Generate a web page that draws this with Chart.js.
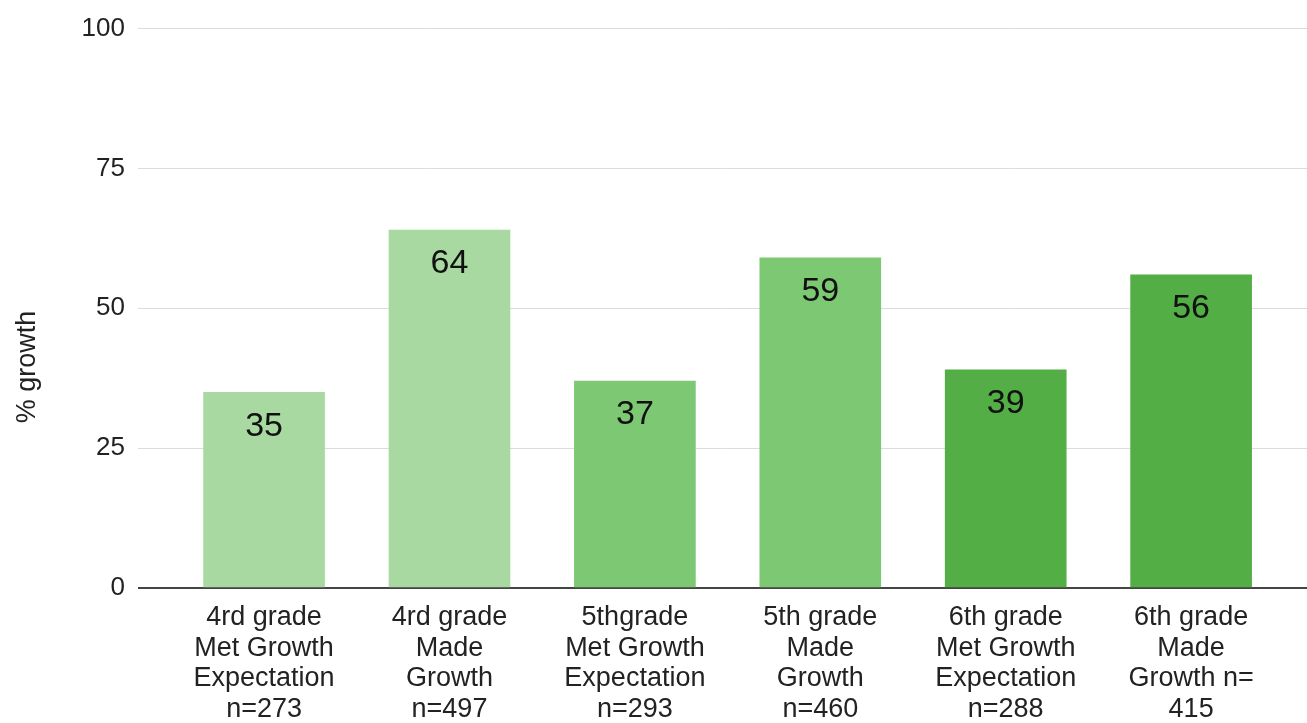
<!DOCTYPE html>
<html>
<head>
<meta charset="utf-8">
<script src="https://cdn.jsdelivr.net/npm/chart.js@4/dist/chart.umd.min.js"></script>
<style>
  html, body { margin: 0; padding: 0; background: #fff; }
  #wrap { width: 1307px; height: 723px; }
</style>
</head>
<body>
<div id="wrap"><canvas id="myChart"></canvas></div>
<script>
var categories = [
    ['4rd grade', 'Met Growth', 'Expectation', 'n=273'],
    ['4rd grade', 'Made', 'Growth', 'n=497'],
    ['5thgrade', 'Met Growth', 'Expectation', 'n=293'],
    ['5th grade', 'Made', 'Growth', 'n=460'],
    ['6th grade', 'Met Growth', 'Expectation', 'n=288'],
    ['6th grade', 'Made', 'Growth n=', '415']
];
var growth = [35, 64, 37, 59, 39, 56];
var barColors = ['#a8d9a0', '#a8d9a0', '#7dc873', '#7dc873', '#53ae45', '#53ae45'];
var yTicks = [0, 25, 50, 75, 100];

var FONT = '"Liberation Sans", Arial, sans-serif';

// value labels drawn inside the top of each bar
var barLabels = {
    id: 'barLabels',
    afterDatasetsDraw: function(chart) {
        var ctx = chart.ctx;
        var meta = chart.getDatasetMeta(0);
        ctx.save();
        ctx.font = '34px ' + FONT;
        ctx.fillStyle = '#111';
        ctx.textAlign = 'center';
        ctx.textBaseline = 'middle';
        meta.data.forEach(function(bar, i) {
            ctx.fillText(String(growth[i]), bar.x, bar.y + 34);
        });
        ctx.restore();
    }
};

// y axis title, centred on the canvas height like the original
var yTitle = {
    id: 'yTitle',
    afterDraw: function(chart) {
        var ctx = chart.ctx;
        ctx.save();
        ctx.translate(28, 367);
        ctx.rotate(-Math.PI / 2);
        ctx.font = '27px ' + FONT;
        ctx.fillStyle = '#222';
        ctx.textAlign = 'center';
        ctx.textBaseline = 'middle';
        ctx.fillText('% growth', 0, 0);
        ctx.restore();
    }
};

var ctx = document.getElementById('myChart').getContext('2d');
var myChart = new Chart(ctx, {
    type: 'bar',
    data: {
        datasets: [{
            label: '% growth',
            data: growth.map(function(v, i) { return {x: i, y: v}; }),
            backgroundColor: barColors,
            barThickness: 121,
            borderWidth: 0
        }]
    },
    options: {
        responsive: true,
        maintainAspectRatio: false,
        animation: false,
        layout: { padding: { top: 25, right: 0, left: 0, bottom: 0 } },
        plugins: {
            legend: { display: false },
            tooltip: { enabled: false }
        },
        scales: {
            x: {
                type: 'linear',
                offset: false,
                min: -0.68,
                max: 5.625,
                grid: { display: false, offset: false, drawTicks: false },
                border: { display: false },
                afterBuildTicks: function(scale) {
                    scale.ticks = categories.map(function(_, i) { return {value: i}; });
                },
                afterFit: function(scale) { scale.height = 135; },
                ticks: {
                    autoSkip: false,
                    maxRotation: 0,
                    minRotation: 0,
                    padding: 14,
                    color: '#222',
                    font: { family: FONT, size: 27, lineHeight: 1.14 },
                    callback: function(v) { return categories[v]; }
                }
            },
            y: {
                min: 0,
                max: 100,
                afterBuildTicks: function(scale) {
                    scale.ticks = yTicks.map(function(v) { return {value: v}; });
                },
                afterFit: function(scale) { scale.width = 138; },
                grid: {
                    drawTicks: false,
                    lineWidth: function(c) { return c.tick.value === 0 ? 2 : 1; },
                    color: function(c) { return c.tick.value === 0 ? '#444' : '#dcdcdc'; }
                },
                border: { display: false },
                ticks: {
                    padding: 13,
                    color: '#222',
                    font: { family: FONT, size: 26 }
                }
            }
        }
    },
    plugins: [barLabels, yTitle]
});
</script>
</body>
</html>
